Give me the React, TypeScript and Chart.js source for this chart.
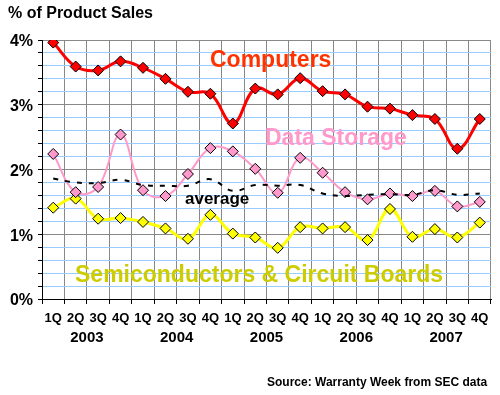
import React, { useEffect, useRef } from 'react';
import { Chart, registerables } from 'chart.js';

Chart.register(...registerables);

const quarterLabels = ['1Q', '2Q', '3Q', '4Q', '1Q', '2Q', '3Q', '4Q', '1Q', '2Q', '3Q', '4Q', '1Q', '2Q', '3Q', '4Q', '1Q', '2Q', '3Q', '4Q'];
const yearLabels = ['2003', '2004', '2005', '2006', '2007'];

const computers = [3.96, 3.59, 3.53, 3.67, 3.57, 3.40, 3.20, 3.17, 2.71, 3.25, 3.16, 3.41, 3.21, 3.16, 2.97, 2.94, 2.84, 2.78, 2.32, 2.78];
const dataStorage = [2.24, 1.65, 1.73, 2.54, 1.68, 1.59, 1.93, 2.33, 2.28, 2.01, 1.64, 2.18, 1.95, 1.65, 1.54, 1.63, 1.59, 1.67, 1.43, 1.50];
const semiconductors = [1.41, 1.55, 1.24, 1.25, 1.19, 1.09, 0.93, 1.30, 1.01, 0.95, 0.79, 1.11, 1.09, 1.11, 0.91, 1.39, 0.96, 1.08, 0.95, 1.18];
const average = [1.86, 1.80, 1.79, 1.84, 1.76, 1.75, 1.75, 1.85, 1.67, 1.76, 1.75, 1.76, 1.63, 1.59, 1.61, 1.62, 1.61, 1.68, 1.61, 1.63];

const FONT = "'Liberation Sans', Arial, Helvetica, sans-serif";

const textPlugin = {
  id: 'chartTexts',
  afterDraw(chart: any) {
    const ctx = chart.ctx;
    const xs = chart.scales.x;
    ctx.save();
    ctx.textBaseline = 'alphabetic';
    // title
    ctx.fillStyle = '#000000';
    ctx.textAlign = 'left';
    ctx.font = `bold 16px ${FONT}`;
    ctx.fillText('% of Product Sales', 8, 18);
    // years
    ctx.font = `bold 15px ${FONT}`;
    ctx.textAlign = 'center';
    yearLabels.forEach((y, k) => {
      const x = (xs.getPixelForValue(4 * k + 1) + xs.getPixelForValue(4 * k + 2)) / 2;
      ctx.fillText(y, x, 342);
    });
    // source
    ctx.textAlign = 'left';
    ctx.font = `bold 12px ${FONT}`;
    ctx.fillText('Source: Warranty Week from SEC data', 267, 386);
    // series labels
    ctx.font = `bold 23px ${FONT}`;
    ctx.fillStyle = '#FF3300';
    ctx.fillText('Computers', 210, 67);
    ctx.fillStyle = '#FF99CC';
    ctx.fillText('Data Storage', 265, 145);
    ctx.fillStyle = '#CCCC00';
    ctx.fillText('Semiconductors & Circuit Boards', 75, 282);
    ctx.font = `bold 17px ${FONT}`;
    ctx.fillStyle = '#000000';
    ctx.fillText('average', 185, 204);
    ctx.restore();
  },
};

export default function App() {
  const ref = useRef<HTMLCanvasElement | null>(null);
  useEffect(() => {
    if (!ref.current) return;
    const isInt = (v: number) => Math.abs(v - Math.round(v)) < 1e-6;
    const chart = new Chart(ref.current, {
      type: 'line',
      data: {
        labels: quarterLabels,
        datasets: [
          {
            label: 'average',
            data: average,
            borderColor: '#000000',
            borderWidth: 2,
            borderDash: [5, 7],
            pointRadius: 0,
            tension: 0.4,
            fill: false,
          },
          {
            label: 'Data Storage',
            data: dataStorage,
            borderColor: '#FF99CC',
            backgroundColor: '#FF99CC',
            borderWidth: 2,
            pointStyle: 'rectRot',
            pointRadius: 5.5,
            pointBorderColor: '#000000',
            pointBorderWidth: 1,
            pointBackgroundColor: '#FF99CC',
            tension: 0.4,
            fill: false,
          },
          {
            label: 'Semiconductors & Circuit Boards',
            data: semiconductors,
            borderColor: '#FFFF00',
            backgroundColor: '#FFFF00',
            borderWidth: 3,
            pointStyle: 'rectRot',
            pointRadius: 5.5,
            pointBorderColor: '#000000',
            pointBorderWidth: 1,
            pointBackgroundColor: '#FFFF00',
            tension: 0.4,
            fill: false,
          },
          {
            label: 'Computers',
            data: computers,
            borderColor: '#FF0000',
            backgroundColor: '#FF0000',
            borderWidth: 3,
            pointStyle: 'rectRot',
            pointRadius: 5.5,
            pointBorderColor: '#000000',
            pointBorderWidth: 1,
            pointBackgroundColor: '#FF0000',
            tension: 0.4,
            fill: false,
          },
        ],
      },
      options: {
        responsive: false,
        animation: false,
        events: [],
        layout: { padding: { left: 0, top: 40, right: 9, bottom: 66 } },
        plugins: { legend: { display: false }, tooltip: { enabled: false }, title: { display: false } },
        scales: {
          x: {
            type: 'category',
            offset: true,
            grid: { offset: true, color: '#888888', lineWidth: 1, tickColor: '#000000', tickLength: 5, drawTicks: true },
            border: { display: true, color: '#000000', width: 1 },
            ticks: {
              autoSkip: false,
              maxRotation: 0,
              minRotation: 0,
              padding: 7,
              color: '#000000',
              font: { family: FONT, size: 13, weight: 'bold' },
            },
            afterFit: (scale: any) => { scale.height = 30; },
          },
          y: {
            min: 0,
            max: 4,
            ticks: {
              stepSize: 0.2,
              autoSkip: false,
              padding: 5,
              labelOffset: 2,
              color: '#000000',
              font: { family: FONT, size: 16, weight: 'bold' },
              callback: (v: any) => (isInt(Number(v)) ? `${Math.round(Number(v))}%` : ''),
            },
            grid: {
              color: (c: any) => (isInt(c.tick.value) ? '#888888' : '#99CCFF'),
              tickColor: '#000000',
              tickLength: 4,
              lineWidth: 1,
            },
            border: { display: true, color: '#000000', width: 1 },
            afterFit: (scale: any) => { scale.width = 42; },
          },
        },
      },
      plugins: [textPlugin],
    } as any);
    return () => chart.destroy();
  }, []);
  return (
    <div style={{ position: 'fixed', left: 0, top: 0, width: 500, height: 395, background: '#ffffff' }}>
      <canvas ref={ref} width={500} height={395} style={{ display: 'block', width: 500, height: 395 }} />
    </div>
  );
}
